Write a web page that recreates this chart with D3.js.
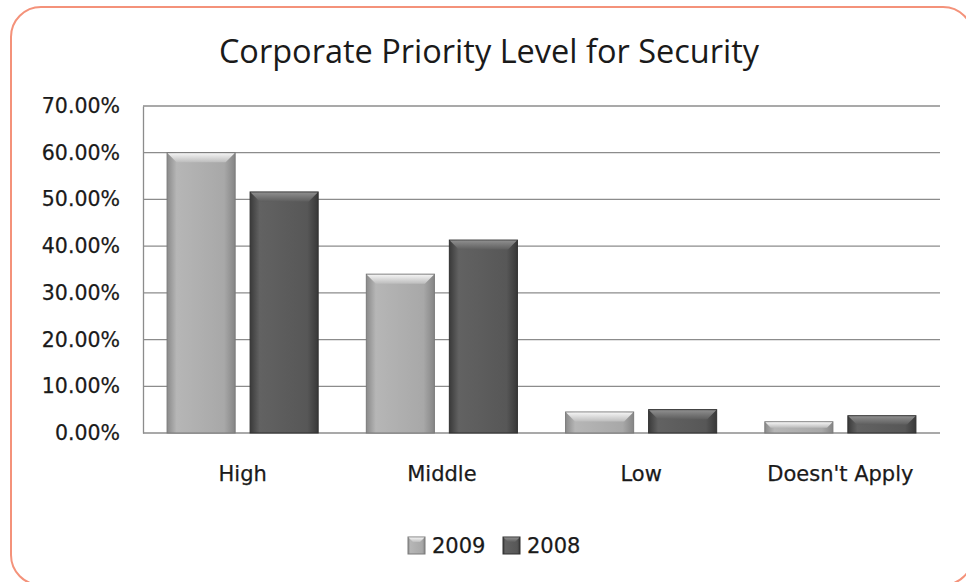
<!DOCTYPE html>
<html lang="en">
<head>
<meta charset="UTF-8">
<script src="https://cdn.jsdelivr.net/npm/d3@7"></script>
<title>Corporate Priority Level for Security</title>
<style>
    body { margin: 0; background: #fff; }
    text { font-family: 'DejaVu Sans', sans-serif; fill: #1a1a1a; }
</style>
</head>
<body>
<div id="chart"></div>
<script>
    const categories = ["High", "Middle", "Low", "Doesn't Apply"];
    const seriesNames = ["2009", "2008"];
    const values2009 = [0.60, 0.34, 0.045, 0.024];
    const values2008 = [0.516, 0.413, 0.05, 0.037];
    const yTicks = [0, 0.1, 0.2, 0.3, 0.4, 0.5, 0.6, 0.7];

    const width = 966, height = 582;
    const margin = { top: 106, right: 26, bottom: 149, left: 143 };

    const svg = d3.select("#chart").append("svg")
        .attr("width", width)
        .attr("height", height);

    const defs = svg.append("defs");

    // body gradients for the two series (light and dark)
    const fills = {
        "2009": ["#8a8a8a", "#b6b6b6", "#a8a8a8", "#858585"],
        "2008": ["#3a3a3a", "#626262", "#575757", "#383838"]
    };
    seriesNames.forEach(s => {
        const g = defs.append("linearGradient")
            .attr("id", "grad" + s)
            .attr("x1", 0).attr("x2", 1).attr("y1", 0).attr("y2", 0);
        [0, 0.14, 0.84, 1].forEach((o, i) => {
            g.append("stop").attr("offset", o).attr("stop-color", fills[s][i]);
        });
        const t = defs.append("linearGradient")
            .attr("id", "top" + s)
            .attr("x1", 0).attr("x2", 0).attr("y1", 0).attr("y2", 1);
        t.append("stop").attr("offset", 0).attr("stop-color", s === "2009" ? "#f4f4f4" : "#8e8e8e");
        t.append("stop").attr("offset", 1).attr("stop-color", s === "2009" ? "#bdbdbd" : "#5e5e5e");
    });

    // outer rounded frame
    svg.append("rect")
        .attr("x", 11).attr("y", 7)
        .attr("width", 962).attr("height", 578)
        .attr("rx", 30).attr("ry", 30)
        .attr("fill", "none")
        .attr("stroke", "#f4927a")
        .attr("stroke-width", 2);

    svg.append("text")
        .attr("x", 489).attr("y", 63)
        .attr("text-anchor", "middle")
        .style("font-family", "'Open Sans', sans-serif")
        .style("font-size", "32.5px")
        .text("Corporate Priority Level for Security");

    const x0 = d3.scaleBand()
        .domain(categories)
        .range([margin.left, width - margin.right])
        .padding(0);

    const x1 = d3.scaleBand()
        .domain(seriesNames)
        .range([0, x0.bandwidth()])
        .paddingInner(0.18)
        .paddingOuter(0.29);

    const y = d3.scaleLinear()
        .domain([0, 0.7])
        .range([height - margin.bottom, margin.top]);

    // gridlines
    svg.append("g")
        .selectAll("line")
        .data(yTicks)
        .enter()
        .append("line")
        .attr("x1", margin.left)
        .attr("x2", width - margin.right)
        .attr("y1", d => y(d))
        .attr("y2", d => y(d))
        .attr("stroke", "#8c8c8c")
        .attr("stroke-width", 1.3);

    const yAxis = svg.append("g")
        .attr("transform", `translate(${margin.left},0)`)
        .call(d3.axisLeft(y).tickValues(yTicks).tickSize(0).tickPadding(23)
            .tickFormat(d => (d * 100).toFixed(2) + "%"));
    yAxis.select(".domain").attr("stroke", "#8c8c8c").attr("stroke-width", 1.3);
    yAxis.selectAll("text")
        .style("font-size", "20.5px")
        .style("font-family", "'DejaVu Sans', sans-serif")
        .attr("fill", "#1a1a1a")
        .attr("stroke", "#1a1a1a")
        .attr("stroke-width", 0.25);

    const xAxis = svg.append("g")
        .attr("transform", `translate(0,${height - margin.bottom})`)
        .call(d3.axisBottom(x0).tickSize(0).tickPadding(33));
    xAxis.select(".domain").remove();
    xAxis.selectAll("text")
        .style("font-size", "21px")
        .style("font-family", "'DejaVu Sans', sans-serif")
        .attr("fill", "#1a1a1a")
        .attr("stroke", "#1a1a1a")
        .attr("stroke-width", 0.25);

    const rows = categories.map((c, i) => ({ cat: c, vals: [
        { s: "2009", v: values2009[i] },
        { s: "2008", v: values2008[i] }
    ]}));

    const bev = 9;
    const groups = svg.append("g")
        .selectAll("g")
        .data(rows)
        .enter()
        .append("g")
        .attr("transform", d => `translate(${x0(d.cat)},0)`);

    const bars = groups.selectAll("g")
        .data(d => d.vals)
        .enter()
        .append("g");

    bars.append("rect")
        .attr("x", d => x1(d.s))
        .attr("y", d => y(d.v))
        .attr("width", x1.bandwidth())
        .attr("height", d => y(0) - y(d.v))
        .attr("fill", d => `url(#grad${d.s})`)
        .attr("stroke", d => d.s === "2009" ? "#7a7a7a" : "#303030")
        .attr("stroke-width", 1);

    // top bevel
    bars.append("path")
        .attr("d", d => {
            const xl = x1(d.s) + 0.5, xr = xl + x1.bandwidth() - 1, yt = y(d.v) + 0.5;
            const b = Math.min(bev, (y(0) - yt) / 2);
            return `M${xl},${yt}L${xr},${yt}L${xr - b},${yt + b}L${xl + b},${yt + b}Z`;
        })
        .attr("fill", d => `url(#top${d.s})`);

    // legend
    const legend = svg.append("g").attr("transform", "translate(408,537)");
    const legendX = [0, 95];
    seriesNames.forEach((s, i) => {
        const g = legend.append("g").attr("transform", `translate(${legendX[i]},0)`);
        g.append("rect")
            .attr("width", 17).attr("height", 17)
            .attr("fill", `url(#grad${s})`)
            .attr("stroke", s === "2009" ? "#7a7a7a" : "#303030");
        g.append("path")
            .attr("d", "M0.5,0.5L16.5,0.5L12,5L5,5Z")
            .attr("fill", `url(#top${s})`);
        g.append("text")
            .attr("x", 24).attr("y", 15.5)
            .style("font-size", "21px")
            .attr("stroke", "#1a1a1a")
            .attr("stroke-width", 0.25)
            .text(s);
    });
</script>
</body>
</html>
